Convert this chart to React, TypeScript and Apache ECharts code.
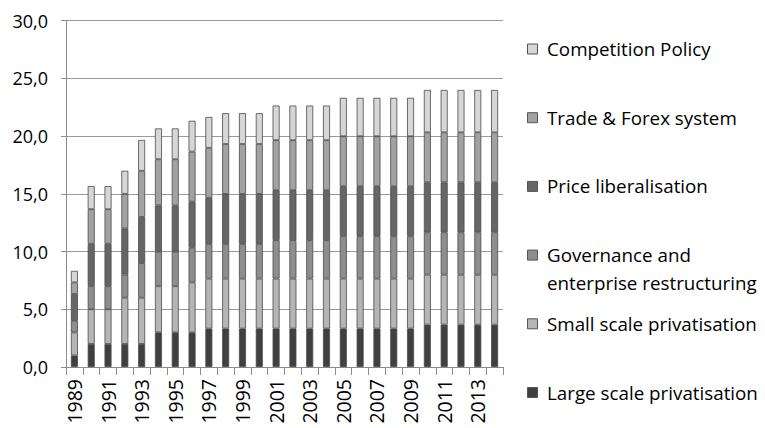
import React, { useEffect, useRef } from "react";
import * as echarts from "echarts";

const years = [
  "1989", "1990", "1991", "1992", "1993", "1994", "1995", "1996", "1997", "1998",
  "1999", "2000", "2001", "2002", "2003", "2004", "2005", "2006", "2007", "2008",
  "2009", "2010", "2011", "2012", "2013", "2014",
];

const largeScale = [1, 2, 2, 2, 2, 3, 3, 3, 3.33, 3.33, 3.33, 3.33, 3.33, 3.33, 3.33, 3.33, 3.33, 3.33, 3.33, 3.33, 3.33, 3.67, 3.67, 3.67, 3.67, 3.67];
const smallScale = [2, 3, 3, 4, 4, 4, 4, 4.33, 4.33, 4.33, 4.33, 4.33, 4.33, 4.33, 4.33, 4.33, 4.33, 4.33, 4.33, 4.33, 4.33, 4.33, 4.33, 4.33, 4.33, 4.33];
const governance = [1, 2, 2, 2, 3, 3, 3, 3, 3, 3, 3, 3, 3.33, 3.33, 3.33, 3.33, 3.67, 3.67, 3.67, 3.67, 3.67, 3.67, 3.67, 3.67, 3.67, 3.67];
const priceLib = [2.33, 3.67, 3.67, 4, 4, 4, 4, 4, 4, 4.33, 4.33, 4.33, 4.33, 4.33, 4.33, 4.33, 4.33, 4.33, 4.33, 4.33, 4.33, 4.33, 4.33, 4.33, 4.33, 4.33];
const tradeForex = [1, 3, 3, 3, 4, 4, 4, 4.33, 4.33, 4.33, 4.33, 4.33, 4.33, 4.33, 4.33, 4.33, 4.33, 4.33, 4.33, 4.33, 4.33, 4.33, 4.33, 4.33, 4.33, 4.33];
const competition = [1, 2, 2, 2, 2.67, 2.67, 2.67, 2.67, 2.67, 2.67, 2.67, 2.67, 3, 3, 3, 3, 3.33, 3.33, 3.33, 3.33, 3.33, 3.67, 3.67, 3.67, 3.67, 3.67];

const seriesNames = [
  "Large scale privatisation",
  "Small scale privatisation",
  "Governance and enterprise restructuring",
  "Price liberalisation",
  "Trade & Forex system",
  "Competition Policy",
];
const legendLabels = [
  "Large scale privatisation",
  "Small scale privatisation",
  "Governance and\nenterprise restructuring",
  "Price liberalisation",
  "Trade & Forex system",
  "Competition Policy",
];
const seriesData = [largeScale, smallScale, governance, priceLib, tradeForex, competition];
const seriesColors = ["#404040", "#b5b5b5", "#8e8e8e", "#666666", "#a2a2a2", "#d6d6d6"];

const FONT = "'Open Sans', sans-serif";

export default function App() {
  const ref = useRef<HTMLDivElement>(null);

  useEffect(() => {
    if (!ref.current) return;
    const chart = echarts.init(ref.current, undefined, { renderer: "svg" });

    const legendTopY = 49;
    const legendStep = 68.7;
    const legendGraphics: any[] = [];
    for (let k = 0; k < seriesNames.length; k++) {
      const idx = seriesNames.length - 1 - k;
      const cy = legendTopY + k * legendStep;
      legendGraphics.push({
        type: "rect",
        left: 527,
        top: cy - 5.5,
        shape: { x: 0, y: 0, width: 10, height: 10 },
        style: { fill: seriesColors[idx], stroke: "#555555", lineWidth: 1 },
      });
      legendGraphics.push({
        type: "text",
        x: 547,
        y: cy - 14,
        style: {
          text: legendLabels[idx],
          fill: "#000000",
          font: `18.8px ${FONT}`,
          lineHeight: 28,
          verticalAlign: "top",
        },
      });
    }

    chart.setOption({
      animation: false,
      backgroundColor: "#ffffff",
      textStyle: { fontFamily: FONT },
      grid: {
        left: 66,
        right: 262,
        top: 20.7,
        bottom: 61,
        containLabel: false,
        outerBoundsMode: "none",
      },
      xAxis: {
        type: "category",
        data: years,
        boundaryGap: true,
        axisLine: { show: true, lineStyle: { color: "#8c8c8c", width: 1 } },
        axisTick: { show: true, interval: 0, length: 8, lineStyle: { color: "#8c8c8c" } },
        axisLabel: {
          interval: 1,
          rotate: 90,
          fontSize: 19.5,
          color: "#000000",
          margin: 12,
          fontFamily: FONT,
        },
        splitLine: { show: false },
      },
      yAxis: {
        type: "value",
        min: 0,
        max: 30,
        interval: 5,
        axisLine: { show: true, lineStyle: { color: "#8c8c8c", width: 1 } },
        axisTick: { show: true, length: 5, lineStyle: { color: "#8c8c8c" } },
        axisLabel: {
          fontSize: 18,
          color: "#000000",
          margin: 18,
          fontFamily: FONT,
          formatter: (v: number) => v.toFixed(1).replace(".", ","),
        },
        splitLine: { show: true, lineStyle: { color: "#9a9a9a", width: 1 } },
      },
      series: seriesNames.map((name, i) => ({
        name,
        type: "bar",
        stack: "total",
        data: seriesData[i],
        barWidth: 7,
        itemStyle: { color: seriesColors[i], borderColor: "#4a4a4a", borderWidth: 0.8 },
      })),
      graphic: legendGraphics,
    });

    return () => chart.dispose();
  }, []);

  return <div ref={ref} style={{ width: 765, height: 428, position: "absolute", left: 0, top: 0 }} />;
}
